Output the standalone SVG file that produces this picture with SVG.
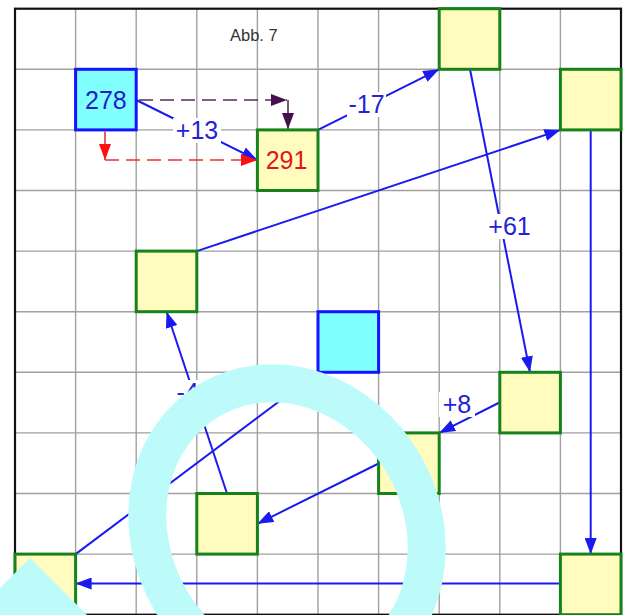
<svg xmlns="http://www.w3.org/2000/svg" width="628" height="615" viewBox="0 0 628 615">
  <style>
    .grid { fill: none; stroke: #a0a0a0; stroke-width: 1.4; }
    .frame { fill: none; stroke: #111; stroke-width: 2.2; }
    .val { fill: #fffcbe; stroke: #16821a; stroke-width: 3; }
    .start { fill: #80ffff; stroke: #1414ff; stroke-width: 3; }
    .link { fill: none; stroke: #1a1aee; stroke-width: 2; }
    .dash-p { fill: none; stroke: #5a2a60; stroke-width: 1.6; stroke-dasharray: 14 7; }
    .dash-r { fill: none; stroke: #f03030; stroke-width: 1.6; stroke-dasharray: 14 7; }
    .lbl-bg { fill: #fff; }
    .lbl { font-family: "Liberation Sans", Arial, sans-serif; font-size: 25px; fill: #2323d6; text-anchor: middle; }
    .num { font-family: "Liberation Sans", Arial, sans-serif; font-size: 25px; text-anchor: middle; }
    .cap { font-family: "Liberation Sans", Arial, sans-serif; font-size: 16.5px; fill: #333; }
    .mask { fill: #bdfbfb; }
  </style>
  <defs>
    <marker id="arr" markerUnits="userSpaceOnUse" markerWidth="16" markerHeight="12" refX="16" refY="6" orient="auto">
      <path d="M0,0 L16,6 L0,12 Z" fill="#1a1aee"/>
    </marker>
    <marker id="arr-p" markerUnits="userSpaceOnUse" markerWidth="16" markerHeight="12" refX="16" refY="6" orient="auto">
      <path d="M0,0 L16,6 L0,12 Z" fill="#46104e"/>
    </marker>
    <marker id="arr-r" markerUnits="userSpaceOnUse" markerWidth="16" markerHeight="12" refX="16" refY="6" orient="auto">
      <path d="M0,0 L16,6 L0,12 Z" fill="#ff1010"/>
    </marker>
  </defs>

  <rect width="628" height="615" fill="#fff"/>

  <!-- 10 x 10 grid, cell 60.6 -->
  <path class="grid" d="M75.6 8.7V615M136.2 8.7V615M196.8 8.7V615M257.4 8.7V615M318 8.7V615M378.6 8.7V615M439.2 8.7V615M499.8 8.7V615M560.4 8.7V615
                        M15 69.3H621M15 129.9H621M15 190.5H621M15 251.1H621M15 311.7H621M15 372.3H621M15 432.9H621M15 493.5H621M15 554.1H621"/>
  <rect class="frame" x="15" y="8.7" width="606" height="606"/>

  <text class="cap" x="230" y="40.5">Abb. 7</text>

  <g id="connectors">
    <line class="link" x1="136.2" y1="100" x2="257.4" y2="160" marker-end="url(#arr)"/>
    <line class="link" x1="318" y1="129.9" x2="439.2" y2="69.3" marker-end="url(#arr)"/>
    <line class="link" x1="470" y1="69.3" x2="530" y2="372.3" marker-end="url(#arr)"/>
    <line class="link" x1="196.8" y1="251.1" x2="560.4" y2="129.9" marker-end="url(#arr)"/>
    <line class="link" x1="590.7" y1="129.9" x2="590.7" y2="554.1" marker-end="url(#arr)"/>
    <line class="link" x1="560.4" y1="583.5" x2="75.6" y2="583.5" marker-end="url(#arr)"/>
    <line class="link" x1="75.6" y1="554.1" x2="318" y2="372.3" marker-end="url(#arr)"/>
    <line class="link" x1="500.5" y1="402" x2="439.2" y2="432.9" marker-end="url(#arr)"/>
    <line class="link" x1="378.6" y1="463.5" x2="257.4" y2="523.8" marker-end="url(#arr)"/>
    <line class="link" x1="227" y1="493.5" x2="166.6" y2="311.7" marker-end="url(#arr)"/>

    <!-- dashed reference paths -->
    <path class="dash-p" d="M139 100H287" marker-end="url(#arr-p)"/>
    <path class="dash-p" d="M288 100V129" marker-end="url(#arr-p)"/>
    <path class="dash-r" d="M105 131.5V160" marker-end="url(#arr-r)"/>
    <path class="dash-r" d="M105 160H257" marker-end="url(#arr-r)"/>

    <!-- edge labels -->
    <rect class="lbl-bg" x="173" y="118" width="48" height="25"/>
    <text class="lbl" x="197" y="139">+13</text>
    <rect class="lbl-bg" x="347" y="92" width="39" height="25"/>
    <text class="lbl" x="366.5" y="113">-17</text>
    <rect class="lbl-bg" x="485" y="214" width="49" height="25"/>
    <text class="lbl" x="509.5" y="235">+61</text>
    <rect class="lbl-bg" x="439" y="392" width="36" height="25"/>
    <text class="lbl" x="457" y="412.5">+8</text>
    <rect class="lbl-bg" x="174" y="380" width="27" height="25"/>
    <text class="lbl" x="187.5" y="401">-4</text>
  </g>

  <g id="n278"><rect class="start" x="75.6" y="69.3" width="60.6" height="60.6"/><text class="num" x="105.9" y="108.5" fill="#1e1ecc">278</text></g>
  <g id="n291"><rect class="val" x="257.4" y="129.9" width="60.6" height="60.6"/><text class="num" x="286.5" y="169" fill="#e4141e">291</text></g>
  <g id="n-top"><rect class="val" x="439.2" y="8.7" width="60.6" height="60.6"/></g>
  <g id="n-right"><rect class="val" x="560.4" y="69.3" width="60.6" height="60.6"/></g>
  <g id="n-left"><rect class="val" x="136.2" y="251.1" width="60.6" height="60.6"/></g>
  <g id="n-mid"><rect class="start" x="318" y="311.7" width="60.6" height="60.6"/></g>
  <g id="n-e"><rect class="val" x="499.8" y="372.3" width="60.6" height="60.6"/></g>
  <g id="n-f"><rect class="val" x="378.6" y="432.9" width="60.6" height="60.6"/></g>
  <g id="n-g"><rect class="val" x="196.8" y="493.5" width="60.6" height="60.6"/></g>
  <g id="n-bl"><rect class="val" x="15" y="554.1" width="60.6" height="60.6"/></g>
  <g id="n-br"><rect class="val" x="560.4" y="554.1" width="60.6" height="60.6"/></g>

  <!-- cover shapes painted over the drawing -->
  <ellipse cx="287" cy="532" rx="135" ry="153" transform="rotate(-30 287 532)" fill="none" stroke="#bdfbfb" stroke-width="38"/>
  <polygon class="mask" points="30,558 88,616 -28,616"/>
</svg>
